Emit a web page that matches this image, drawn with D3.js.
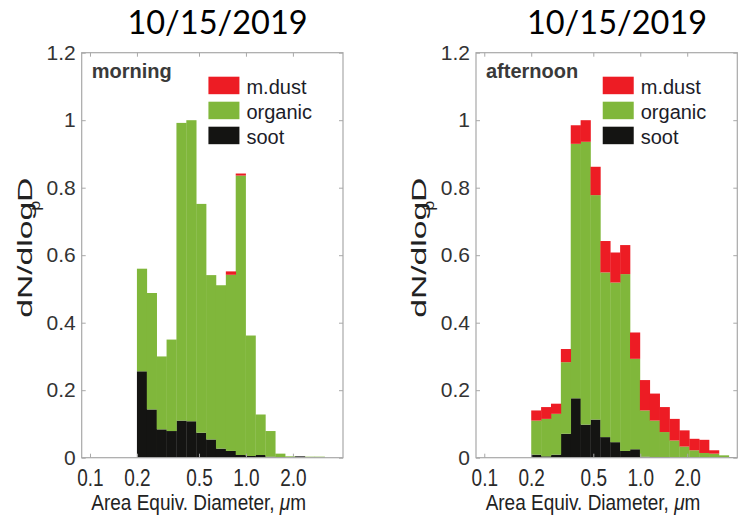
<!DOCTYPE html>
<html>
<head>
<meta charset="utf-8">
<script src="https://cdn.jsdelivr.net/npm/d3@7"></script>
<style>
  html, body { margin: 0; padding: 0; background: #fff; }
  svg { display: block; }
  text { font-family: "Liberation Sans", Arial, sans-serif; }
</style>
</head>
<body>
<svg id="chart" width="742" height="520"></svg>
<script>
// ---------------- data ----------------
const panelTitles = ["10/15/2019", "10/15/2019"];
const panelLabels = ["morning", "afternoon"];
const seriesKeys = ["soot", "organic", "mdust"];
const legendNames = ["m.dust", "organic", "soot"];
const legendKeys = ["mdust", "organic", "soot"];

// edges of the size bins (µm)
const binEdges = [0.200, 0.2314, 0.2677, 0.3098, 0.3584, 0.4147, 0.4798, 0.5551, 0.6423,
                  0.7431, 0.8598, 0.9948, 1.151, 1.332, 1.541, 1.783, 2.063, 2.387, 2.761,
                  3.195, 3.697, 4.277];

const morningSoot    = [0.256, 0.143, 0.084, 0.079, 0.110, 0.108, 0.074, 0.054, 0.027, 0.020,
                        0.008, 0.005, 0.008, 0.003, 0.002, 0.001, 0.004, 0.000, 0.000];
const morningOrganic = [0.304, 0.345, 0.216, 0.271, 0.882, 0.892, 0.678, 0.487, 0.484, 0.522,
                        0.828, 0.357, 0.120, 0.076, 0.010, 0.003, 0.000, 0.003, 0.003];
const morningDust    = [0, 0, 0, 0, 0, 0, 0, 0, 0, 0.010,
                        0.006, 0, 0, 0, 0, 0, 0, 0, 0];

const afternoonSoot    = [0.009, 0.004, 0.009, 0.071, 0.176, 0.098, 0.113, 0.061, 0.046, 0.020,
                          0.025, 0.003, 0.002, 0.002, 0, 0, 0, 0, 0, 0, 0.002];
const afternoonOrganic = [0.101, 0.111, 0.121, 0.212, 0.754, 0.838, 0.665, 0.488, 0.473, 0.524,
                          0.268, 0.137, 0.108, 0.074, 0.051, 0.033, 0.022, 0.014, 0.012, 0.007, 0];
const afternoonDust    = [0.030, 0.035, 0.030, 0.039, 0.055, 0.064, 0.084, 0.093, 0.089, 0.086,
                          0.078, 0.090, 0.080, 0.074, 0.064, 0.048, 0.034, 0.039, 0.010, 0, 0];

const xTickValues = [0.1, 0.2, 0.5, 1.0, 2.0];
const xTickLabels = ["0.1", "0.2", "0.5", "1.0", "2.0"];
const yTickValues = [0, 0.2, 0.4, 0.6, 0.8, 1.0, 1.2];
const xDomain = [0.0885, 4.19];
const yDomain = [0, 1.2];

// ---------------- style / layout ----------------
const colors = { mdust: "#ed1c24", organic: "#80b73b", soot: "#141412" };
const panels = [
  { left: 81.7, top: 52.7, width: 261.3, height: 405, titleX: 217.5,
    soot: morningSoot, organic: morningOrganic, mdust: morningDust },
  { left: 476, top: 52.7, width: 261.3, height: 405, titleX: 617,
    soot: afternoonSoot, organic: afternoonOrganic, mdust: afternoonDust }
];

const svg = d3.select("#chart");

panels.forEach((p, pi) => {
  const x = d3.scaleLog().domain(xDomain).range([p.left, p.left + p.width]);
  const y = d3.scaleLinear().domain(yDomain).range([p.top + p.height, p.top]);

  // title
  svg.append("text")
    .attr("x", p.titleX).attr("y", 34)
    .attr("text-anchor", "middle")
    .style("font-family", "Lato, 'Open Sans', sans-serif")
    .style("font-size", "32.5px")
    .attr("fill", "#000")
    .text(panelTitles[pi]);

  // clip
  const clipId = "clip" + pi;
  svg.append("clipPath").attr("id", clipId)
    .append("rect")
    .attr("x", p.left).attr("y", p.top)
    .attr("width", p.width).attr("height", p.height);

  // stacked bars
  const rows = p.soot.map((s, i) => ({
    x0: binEdges[i], x1: binEdges[i + 1],
    soot: s, organic: p.organic[i], mdust: p.mdust[i]
  }));
  const stacked = d3.stack().keys(seriesKeys)(rows);

  const g = svg.append("g").attr("clip-path", `url(#${clipId})`);
  g.selectAll("g.layer").data(stacked).join("g")
    .attr("class", "layer")
    .attr("fill", d => colors[d.key])
    .selectAll("rect").data(d => d).join("rect")
    .attr("x", d => x(d.data.x0))
    .attr("width", d => x(d.data.x1) - x(d.data.x0) + 0.3)
    .attr("y", d => y(d[1]))
    .attr("height", d => Math.max(0, y(d[0]) - y(d[1])));

  // axes box
  const boxColor = "#a8a8a8";
  svg.append("rect")
    .attr("x", p.left).attr("y", p.top)
    .attr("width", p.width).attr("height", p.height)
    .attr("fill", "none").attr("stroke", boxColor).attr("stroke-width", 1.2);

  // x axis (bottom) with labels (glyphs stretched vertically as in the reference)
  const xAxis = d3.axisBottom(x).tickValues(xTickValues)
    .tickFormat((d, i) => xTickLabels[i]).tickSizeInner(-4).tickSizeOuter(0);
  const gx = svg.append("g").attr("transform", `translate(0,${p.top + p.height})`).call(xAxis);
  gx.select(".domain").remove();
  gx.selectAll(".tick line").attr("stroke", boxColor);
  gx.selectAll(".tick text")
    .attr("y", 0).attr("dy", "0.72em")
    .attr("transform", "translate(0,11) scale(1,1.25)")
    .style("font-family", "'Liberation Sans', Arial, sans-serif")
    .style("font-size", "19px").attr("fill", "#2a2a2a");

  // x ticks on top
  const gxt = svg.append("g").attr("transform", `translate(0,${p.top})`)
    .call(d3.axisTop(x).tickValues(xTickValues).tickFormat("").tickSizeInner(-4).tickSizeOuter(0));
  gxt.select(".domain").remove();
  gxt.selectAll(".tick line").attr("stroke", boxColor);

  // y axis (left)
  const gy = svg.append("g").attr("transform", `translate(${p.left},0)`)
    .call(d3.axisLeft(y).tickValues(yTickValues).tickFormat(d3.format("~g"))
      .tickSizeInner(-4).tickSizeOuter(0).tickPadding(6));
  gy.select(".domain").remove();
  gy.selectAll(".tick line").attr("stroke", boxColor);
  gy.selectAll(".tick text")
    .style("font-family", "'Liberation Sans', Arial, sans-serif")
    .style("font-size", "21px").attr("fill", "#333");

  // y ticks on right
  const gyr = svg.append("g").attr("transform", `translate(${p.left + p.width},0)`)
    .call(d3.axisRight(y).tickValues(yTickValues).tickFormat("").tickSizeInner(-4).tickSizeOuter(0));
  gyr.select(".domain").remove();
  gyr.selectAll(".tick line").attr("stroke", boxColor);

  // panel label
  svg.append("text")
    .attr("x", p.left + 10).attr("y", p.top + 25)
    .style("font-size", "20px").style("font-weight", "bold")
    .attr("fill", "#3a3a3a")
    .text(panelLabels[pi]);

  // legend
  const lx = p.left + p.width * 0.485;
  const lg = svg.append("g");
  legendKeys.forEach((k, i) => {
    const ly = p.top + 24 + i * 25;
    lg.append("rect")
      .attr("x", lx).attr("y", ly)
      .attr("width", 31).attr("height", 17.5)
      .attr("fill", colors[k]);
    lg.append("text")
      .attr("x", lx + 38).attr("y", ly + 17.5)
      .style("font-size", "20px").attr("fill", "#1c1c28")
      .text(legendNames[i]);
  });

  // y label dN/dlogD_p (stretched along its length, as in the reference)
  svg.append("text")
    .attr("transform", `translate(${p.left - 50},${p.top + 195}) rotate(-90) scale(1.6,1)`)
    .attr("text-anchor", "middle")
    .style("font-size", "21px").attr("fill", "#222")
    .text("dN/dlogD");
  svg.append("text")
    .attr("transform", `translate(${p.left - 42},${p.top + 153}) rotate(-90) scale(1.3,1)`)
    .attr("text-anchor", "middle")
    .style("font-size", "14px").attr("fill", "#222")
    .text("p");

  // x label
  const xl = svg.append("text")
    .attr("transform", `translate(${p.left + 117},510) scale(1,1.2)`)
    .attr("text-anchor", "middle")
    .style("font-size", "19px").attr("fill", "#222");
  xl.append("tspan").text("Area Equiv. Diameter, ");
  xl.append("tspan").style("font-style", "italic").text("\u03bc");
  xl.append("tspan").text("m");
});
</script>
</body>
</html>
